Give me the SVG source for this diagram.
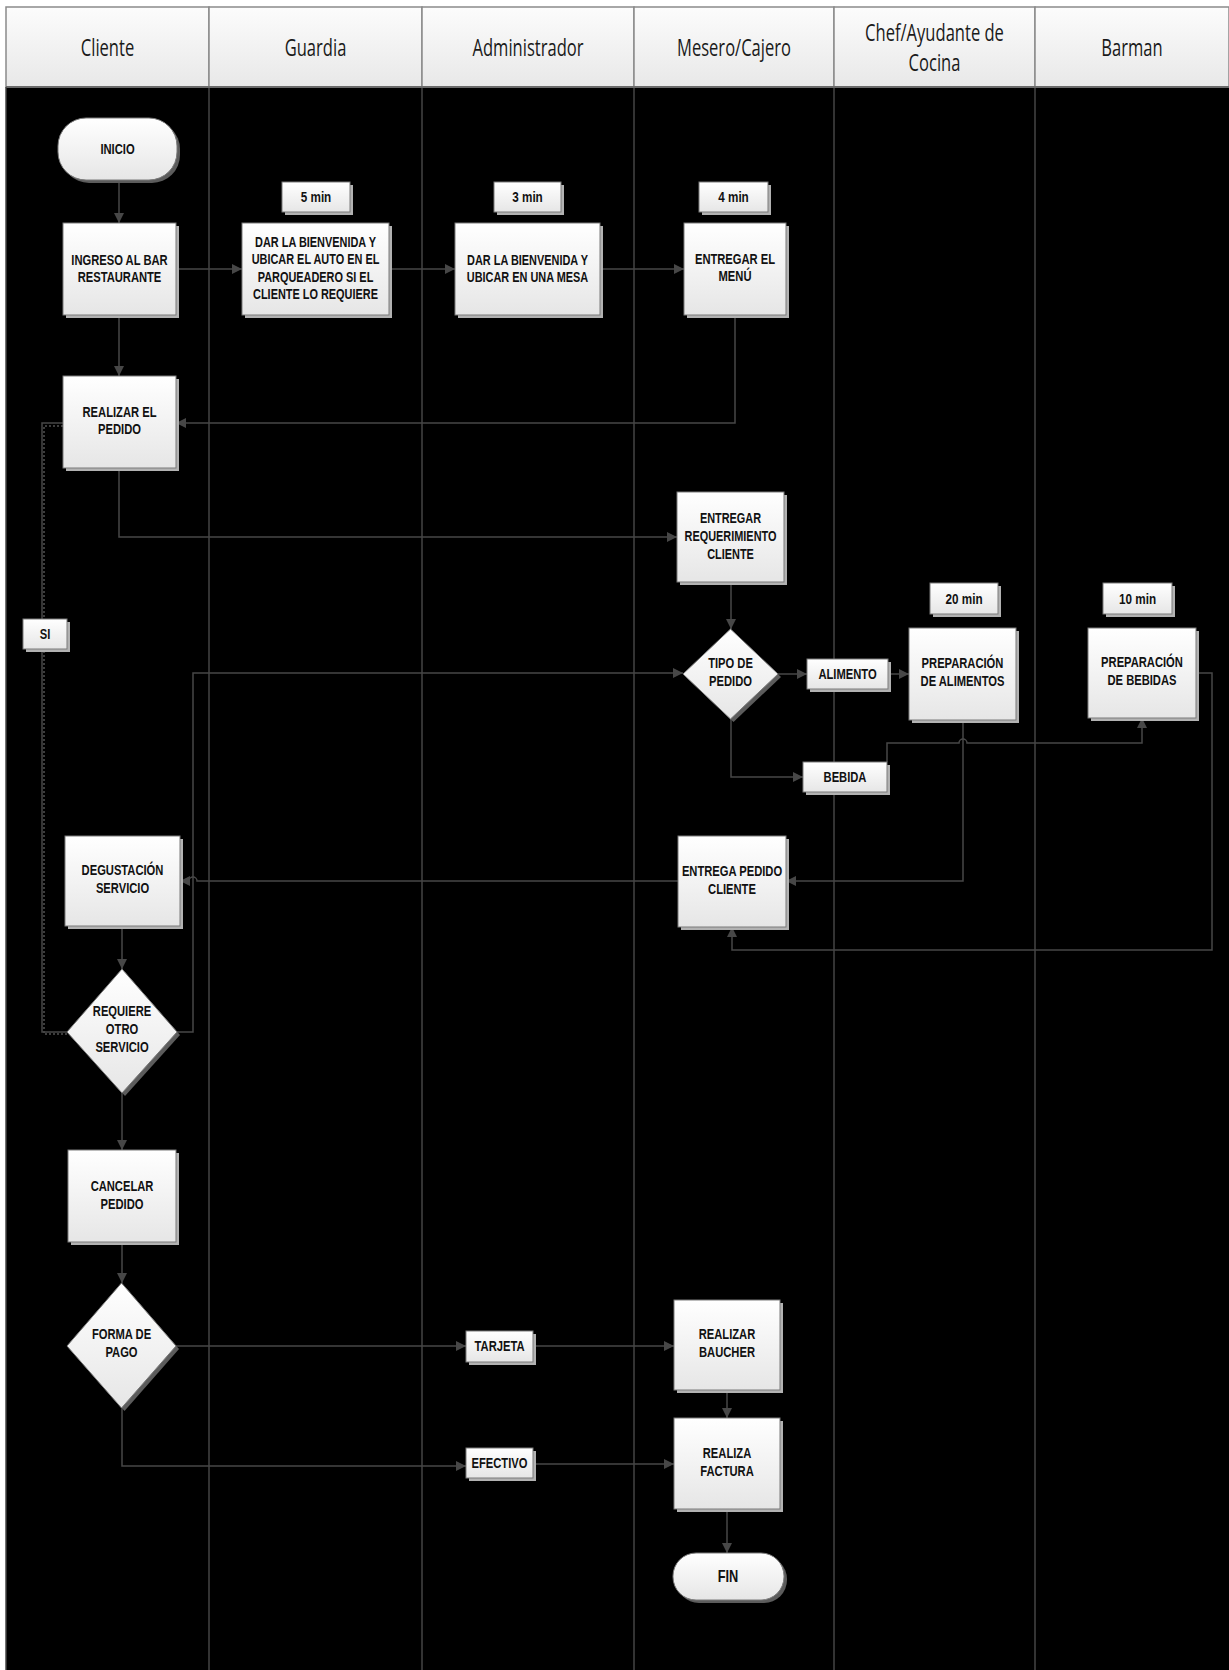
<svg xmlns="http://www.w3.org/2000/svg" width="1229" height="1670" viewBox="0 0 1229 1670">
<defs>
<linearGradient id="hg" x1="0" y1="0" x2="0" y2="1"><stop offset="0" stop-color="#fcfcfc"/><stop offset="1" stop-color="#e8e8e8"/></linearGradient>
<linearGradient id="ng" x1="0" y1="0" x2="0" y2="1"><stop offset="0" stop-color="#ffffff"/><stop offset="1" stop-color="#e6e6e6"/></linearGradient>
<marker id="ah" markerUnits="userSpaceOnUse" markerWidth="11" markerHeight="10" refX="10" refY="5" orient="auto"><path d="M0,0 L10,5 L0,10 z" fill="#474747"/></marker>
<style>
.hdr{fill:url(#hg);stroke:#8a8a8a;stroke-width:1.5}
.ht{font-family:"Open Sans","Liberation Sans",sans-serif;font-size:23px;fill:#1a1a1a;text-anchor:middle}
.lane{stroke:#444;stroke-width:1.5;fill:none}
.box{fill:url(#ng);stroke:#7a7a7a;stroke-width:1}
.sh{fill:#b2b2b2}
.dsh{fill:#5c5c5c}
.nt{font-family:"Liberation Sans",Arial,sans-serif;font-weight:bold;font-size:14px;fill:#111;text-anchor:middle}
.tm{font-size:15px}
.cn{fill:none;stroke:#474747;stroke-width:1.5}
.ar{marker-end:url(#ah)}
</style>
</defs>
<rect x="0" y="0" width="1229" height="1670" fill="#ffffff"/>
<rect x="6" y="87" width="1223" height="1583" fill="#000000"/>
<g id="header">
<rect class="hdr" x="6" y="7" width="203" height="80"/>
<rect class="hdr" x="209" y="7" width="213" height="80"/>
<rect class="hdr" x="422" y="7" width="212" height="80"/>
<rect class="hdr" x="634" y="7" width="200" height="80"/>
<rect class="hdr" x="834" y="7" width="201" height="80"/>
<rect class="hdr" x="1035" y="7" width="194" height="80"/>
<line x1="6" y1="87" x2="1229" y2="87" stroke="#6a6a6a" stroke-width="2"/>
<g transform="translate(107.5,0) scale(0.72,1)"><text class="ht" x="0" y="56">Cliente</text></g>
<g transform="translate(315.5,0) scale(0.72,1)"><text class="ht" x="0" y="56">Guardia</text></g>
<g transform="translate(528,0) scale(0.72,1)"><text class="ht" x="0" y="56">Administrador</text></g>
<g transform="translate(734,0) scale(0.72,1)"><text class="ht" x="0" y="56">Mesero/Cajero</text></g>
<g transform="translate(934.5,0) scale(0.72,1)"><text class="ht" x="0" y="41">Chef/Ayudante de</text><text class="ht" x="0" y="71">Cocina</text></g>
<g transform="translate(1132,0) scale(0.72,1)"><text class="ht" x="0" y="56">Barman</text></g>
</g>
<g id="lanes">
<line class="lane" x1="6" y1="87" x2="6" y2="1670" stroke="#8a8a8a"/>
<line class="lane" x1="209" y1="88" x2="209" y2="1670"/>
<line class="lane" x1="422" y1="88" x2="422" y2="1670"/>
<line class="lane" x1="634" y1="88" x2="634" y2="1670"/>
<line class="lane" x1="834" y1="88" x2="834" y2="1670"/>
<line class="lane" x1="1035" y1="88" x2="1035" y2="1670"/>
</g>
<g id="connectors">
<path class="cn ar" d="M119,180 V223"/>
<path class="cn ar" d="M176,269 H242"/>
<path class="cn ar" d="M389,269 H455"/>
<path class="cn ar" d="M600,269 H684"/>
<path class="cn ar" d="M119,315 V376"/>
<path class="cn ar" d="M735,315 V423 H176"/>
<path class="cn ar" d="M119,468 V537 H677"/>
<path class="cn ar" d="M731,582 V629"/>
<path class="cn ar" d="M778,674 H807"/>
<path class="cn ar" d="M888,674 H909"/>
<path class="cn ar" d="M731,719 V777 H803"/>
<path class="cn ar" d="M887,762 V743 H959 A4,4 0 0 1 967,743 H1142 V718"/>
<path class="cn ar" d="M963,720 V881 H786"/>
<path class="cn ar" d="M1196,673 H1212 V950 H732 V927"/>
<path class="cn ar" d="M678,881 H197 A4,4 0 0 0 189,881 H180"/>
<path class="cn ar" d="M122,926 V969"/>
<path class="cn ar" d="M177,1032 H193 V673 H683"/>
<path d="M67,1034 H44 V426 H63" fill="none" stroke="#7a7a7a" stroke-width="1" stroke-dasharray="2 2"/>
<path class="cn" d="M67,1032 H42 V423 H63"/>
<path class="cn ar" d="M122,1093 V1150"/>
<path class="cn ar" d="M122,1242 V1283"/>
<path class="cn ar" d="M176,1346 H466"/>
<path class="cn ar" d="M533,1346 H674"/>
<path class="cn ar" d="M727,1390 V1418"/>
<path class="cn ar" d="M122,1408 V1466 H466"/>
<path class="cn ar" d="M533,1464 H674"/>
<path class="cn ar" d="M727,1509 V1553"/>
</g>
<g id="inicio">
<rect class="dsh" x="61" y="121" width="119" height="62" rx="28"/>
<rect class="box" x="58" y="118" width="119" height="62" rx="28"/>
<g transform="translate(117.5,0) scale(0.8,1)"><text class="nt" x="0" y="154">INICIO</text></g>
</g>
<g id="ingreso">
<rect class="sh" x="66" y="226" width="113" height="92"/>
<rect class="box" x="63" y="223" width="113" height="92"/>
<g transform="translate(119.5,0) scale(0.8,1)"><text class="nt" x="0" y="265">INGRESO AL BAR</text><text class="nt" x="0" y="282">RESTAURANTE</text></g>
</g>
<g id="t5">
<rect class="sh" x="285" y="185" width="68" height="30"/>
<rect class="box" x="282" y="182" width="68" height="30"/>
<g transform="translate(316,0) scale(0.78,1)"><text class="nt tm" x="0" y="202">5 min</text></g>
</g>
<g id="guardia-bienvenida">
<rect class="sh" x="245" y="226" width="147" height="92"/>
<rect class="box" x="242" y="223" width="147" height="92"/>
<g transform="translate(315.5,0) scale(0.78,1)"><text class="nt" x="0" y="247">DAR LA BIENVENIDA Y</text><text class="nt" x="0" y="264.5">UBICAR EL AUTO EN EL</text><text class="nt" x="0" y="282">PARQUEADERO SI EL</text><text class="nt" x="0" y="299.5">CLIENTE LO REQUIERE</text></g>
</g>
<g id="t3">
<rect class="sh" x="497" y="185" width="67" height="30"/>
<rect class="box" x="494" y="182" width="67" height="30"/>
<g transform="translate(527.5,0) scale(0.78,1)"><text class="nt tm" x="0" y="202">3 min</text></g>
</g>
<g id="admin-bienvenida">
<rect class="sh" x="458" y="226" width="145" height="92"/>
<rect class="box" x="455" y="223" width="145" height="92"/>
<g transform="translate(527.5,0) scale(0.78,1)"><text class="nt" x="0" y="265">DAR LA BIENVENIDA Y</text><text class="nt" x="0" y="282">UBICAR EN UNA MESA</text></g>
</g>
<g id="t4">
<rect class="sh" x="702" y="185" width="69" height="30"/>
<rect class="box" x="699" y="182" width="69" height="30"/>
<g transform="translate(733.5,0) scale(0.78,1)"><text class="nt tm" x="0" y="202">4 min</text></g>
</g>
<g id="menu">
<rect class="sh" x="687" y="226" width="102" height="92"/>
<rect class="box" x="684" y="223" width="102" height="92"/>
<g transform="translate(735,0) scale(0.8,1)"><text class="nt" x="0" y="264">ENTREGAR EL</text><text class="nt" x="0" y="281">MENÚ</text></g>
</g>
<g id="realizar-pedido">
<rect class="sh" x="66" y="379" width="113" height="92"/>
<rect class="box" x="63" y="376" width="113" height="92"/>
<g transform="translate(119.5,0) scale(0.8,1)"><text class="nt" x="0" y="417">REALIZAR EL</text><text class="nt" x="0" y="434">PEDIDO</text></g>
</g>
<g id="si">
<rect class="sh" x="26" y="622" width="44" height="30"/>
<rect class="box" x="23" y="619" width="44" height="30"/>
<g transform="translate(45,0) scale(0.8,1)"><text class="nt" x="0" y="639">SI</text></g>
</g>
<g id="entregar-req">
<rect class="sh" x="680" y="495" width="107" height="90"/>
<rect class="box" x="677" y="492" width="107" height="90"/>
<g transform="translate(730.5,0) scale(0.78,1)"><text class="nt" x="0" y="523">ENTREGAR</text><text class="nt" x="0" y="541">REQUERIMIENTO</text><text class="nt" x="0" y="559">CLIENTE</text></g>
</g>
<g id="tipo-pedido">
<polygon class="dsh" points="733.5,632 781,677 733.5,722 686,677"/>
<polygon class="box" points="730.5,629 778,674 730.5,719 683,674"/>
<g transform="translate(730.5,0) scale(0.8,1)"><text class="nt" x="0" y="668">TIPO DE</text><text class="nt" x="0" y="686">PEDIDO</text></g>
</g>
<g id="alimento">
<rect class="sh" x="810" y="662" width="81" height="30"/>
<rect class="box" x="807" y="659" width="81" height="30"/>
<g transform="translate(847.5,0) scale(0.8,1)"><text class="nt" x="0" y="679">ALIMENTO</text></g>
</g>
<g id="t20">
<rect class="sh" x="933" y="586" width="68" height="31"/>
<rect class="box" x="930" y="583" width="68" height="31"/>
<g transform="translate(964,0) scale(0.78,1)"><text class="nt tm" x="0" y="604">20 min</text></g>
</g>
<g id="prep-alimentos">
<rect class="sh" x="912" y="631" width="107" height="92"/>
<rect class="box" x="909" y="628" width="107" height="92"/>
<g transform="translate(962.5,0) scale(0.8,1)"><text class="nt" x="0" y="668">PREPARACIÓN</text><text class="nt" x="0" y="686">DE ALIMENTOS</text></g>
</g>
<g id="t10">
<rect class="sh" x="1106" y="586" width="69" height="31"/>
<rect class="box" x="1103" y="583" width="69" height="31"/>
<g transform="translate(1137.5,0) scale(0.78,1)"><text class="nt tm" x="0" y="604">10 min</text></g>
</g>
<g id="prep-bebidas">
<rect class="sh" x="1091" y="631" width="108" height="90"/>
<rect class="box" x="1088" y="628" width="108" height="90"/>
<g transform="translate(1142,0) scale(0.8,1)"><text class="nt" x="0" y="667">PREPARACIÓN</text><text class="nt" x="0" y="685">DE BEBIDAS</text></g>
</g>
<g id="bebida">
<rect class="sh" x="806" y="765" width="84" height="30"/>
<rect class="box" x="803" y="762" width="84" height="30"/>
<g transform="translate(845,0) scale(0.8,1)"><text class="nt" x="0" y="782">BEBIDA</text></g>
</g>
<g id="entrega-pedido">
<rect class="sh" x="681" y="839" width="108" height="91"/>
<rect class="box" x="678" y="836" width="108" height="91"/>
<g transform="translate(732,0) scale(0.8,1)"><text class="nt" x="0" y="876">ENTREGA PEDIDO</text><text class="nt" x="0" y="894">CLIENTE</text></g>
</g>
<g id="degustacion">
<rect class="sh" x="68" y="839" width="115" height="90"/>
<rect class="box" x="65" y="836" width="115" height="90"/>
<g transform="translate(122.5,0) scale(0.8,1)"><text class="nt" x="0" y="875">DEGUSTACIÓN</text><text class="nt" x="0" y="893">SERVICIO</text></g>
</g>
<g id="requiere-otro">
<polygon class="dsh" points="125,972 180,1035 125,1096 70,1035"/>
<polygon class="box" points="122,969 177,1032 122,1093 67,1032"/>
<g transform="translate(122,0) scale(0.8,1)"><text class="nt" x="0" y="1016">REQUIERE</text><text class="nt" x="0" y="1034">OTRO</text><text class="nt" x="0" y="1052">SERVICIO</text></g>
</g>
<g id="cancelar">
<rect class="sh" x="71" y="1153" width="108" height="92"/>
<rect class="box" x="68" y="1150" width="108" height="92"/>
<g transform="translate(122,0) scale(0.8,1)"><text class="nt" x="0" y="1191">CANCELAR</text><text class="nt" x="0" y="1209">PEDIDO</text></g>
</g>
<g id="forma-pago">
<polygon class="dsh" points="124.5,1286 179,1349 124.5,1411 70,1349"/>
<polygon class="box" points="121.5,1283 176,1346 121.5,1408 67,1346"/>
<g transform="translate(121.5,0) scale(0.8,1)"><text class="nt" x="0" y="1339">FORMA DE</text><text class="nt" x="0" y="1357">PAGO</text></g>
</g>
<g id="tarjeta">
<rect class="sh" x="469" y="1334" width="67" height="31"/>
<rect class="box" x="466" y="1331" width="67" height="31"/>
<g transform="translate(499.5,0) scale(0.8,1)"><text class="nt" x="0" y="1351">TARJETA</text></g>
</g>
<g id="efectivo">
<rect class="sh" x="469" y="1451" width="67" height="30"/>
<rect class="box" x="466" y="1448" width="67" height="30"/>
<g transform="translate(499.5,0) scale(0.8,1)"><text class="nt" x="0" y="1468">EFECTIVO</text></g>
</g>
<g id="baucher">
<rect class="sh" x="677" y="1303" width="106" height="90"/>
<rect class="box" x="674" y="1300" width="106" height="90"/>
<g transform="translate(727,0) scale(0.8,1)"><text class="nt" x="0" y="1339">REALIZAR</text><text class="nt" x="0" y="1357">BAUCHER</text></g>
</g>
<g id="factura">
<rect class="sh" x="677" y="1421" width="106" height="91"/>
<rect class="box" x="674" y="1418" width="106" height="91"/>
<g transform="translate(727,0) scale(0.8,1)"><text class="nt" x="0" y="1458">REALIZA</text><text class="nt" x="0" y="1476">FACTURA</text></g>
</g>
<g id="fin">
<rect class="dsh" x="676" y="1556" width="111" height="47" rx="23"/>
<rect class="box" x="673" y="1553" width="111" height="47" rx="23"/>
<g transform="translate(728,0) scale(0.8,1)"><text class="nt" x="0" y="1582" style="font-size:16px">FIN</text></g>
</g>
</svg>
